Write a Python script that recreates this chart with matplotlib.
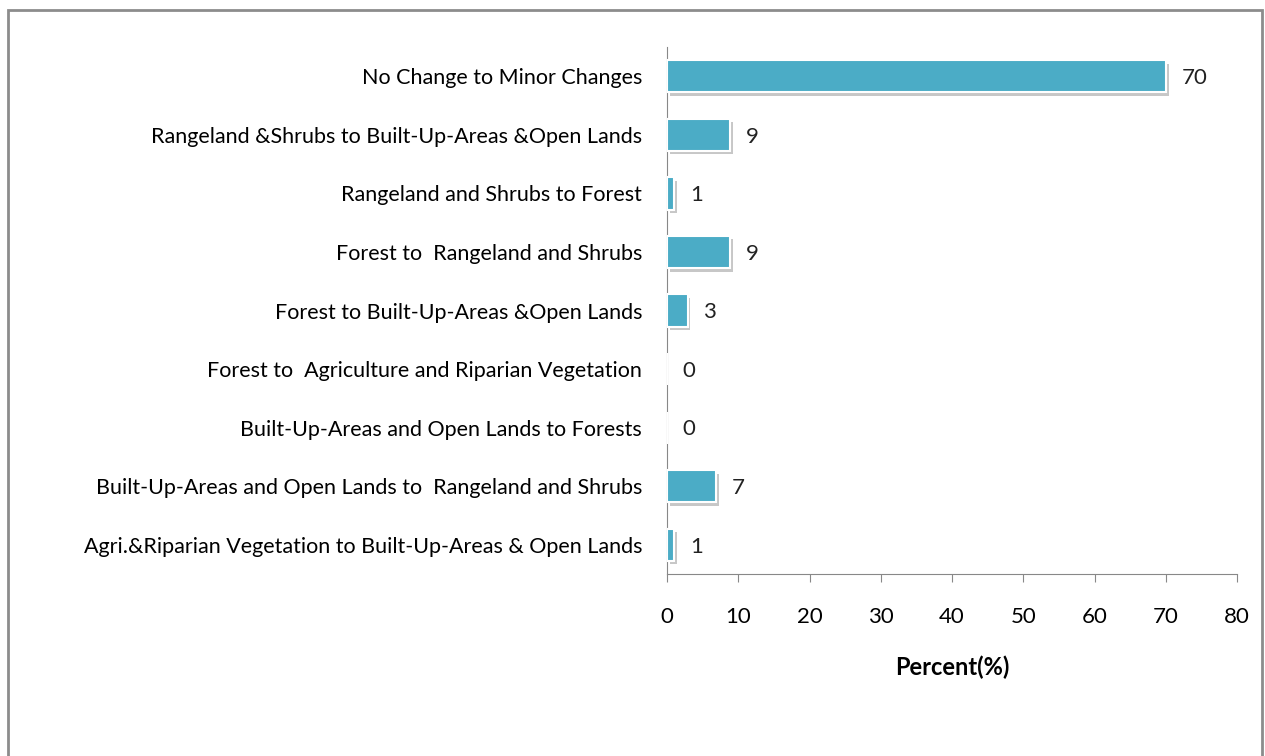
import matplotlib.pyplot as plt
import matplotlib.patheffects as pe
from matplotlib.patches import Rectangle

plt.rcParams['font.family'] = ['Lato', 'DejaVu Sans']

categories = [
    'No Change to Minor Changes',
    'Rangeland &Shrubs to Built-Up-Areas &Open Lands',
    'Rangeland and Shrubs to Forest',
    'Forest to  Rangeland and Shrubs',
    'Forest to Built-Up-Areas &Open Lands',
    'Forest to  Agriculture and Riparian Vegetation',
    'Built-Up-Areas and Open Lands to Forests',
    'Built-Up-Areas and Open Lands to  Rangeland and Shrubs',
    'Agri.&Riparian Vegetation to Built-Up-Areas & Open Lands',
]
values = [70, 8.8, 1, 8.8, 2.9, 0, 0, 6.9, 1]
xticks = [0, 10, 20, 30, 40, 50, 60, 70, 80]

fig = plt.figure(figsize=(12.65, 7.56), dpi=100)
ax = fig.add_axes([0.5273, 0.2407, 0.4506, 0.6971])

ypos = list(range(len(categories)))[::-1]
bars = ax.barh(ypos, values, height=0.55, color='#4BACC6',
               edgecolor='white', linewidth=1.5, zorder=3)
for b in bars:
    b.set_path_effects([pe.SimplePatchShadow(offset=(2, -2.5), shadow_rgbFace='#9a9a9a', alpha=0.55),
                        pe.Normal()])

# value labels
for y, v in zip(ypos, values):
    ax.text(v + 2.2, y - 0.03, f'{v:.0f}', va='center', ha='left', fontsize=16, color='#222222')

ax.set_ylim(-0.5, len(categories) - 0.5)
ax.set_xlim(0, 80)
ax.set_xticks(xticks)
ax.set_xticklabels([str(t) for t in xticks], fontsize=16)
ax.set_yticks(ypos)
ax.set_yticklabels(categories, fontsize=15.5)
ax.tick_params(axis='y', length=0, pad=18)
ax.tick_params(axis='x', direction='out', length=6, color='#888888', pad=18)
for s in ['top', 'right']:
    ax.spines[s].set_visible(False)
ax.spines['left'].set_color('#888888')
ax.spines['bottom'].set_color('#888888')
ax.set_xlabel('Percent(%)', fontsize=17, fontweight='bold', labelpad=20)

# frame around the chart
fig.patches.append(Rectangle((8 / 1265, -0.05), 1254 / 1265, 1.05 - 10 / 756,
                             transform=fig.transFigure, fill=False,
                             edgecolor='#8c8c8c', linewidth=2))

fig.savefig('out.png', dpi=100)
